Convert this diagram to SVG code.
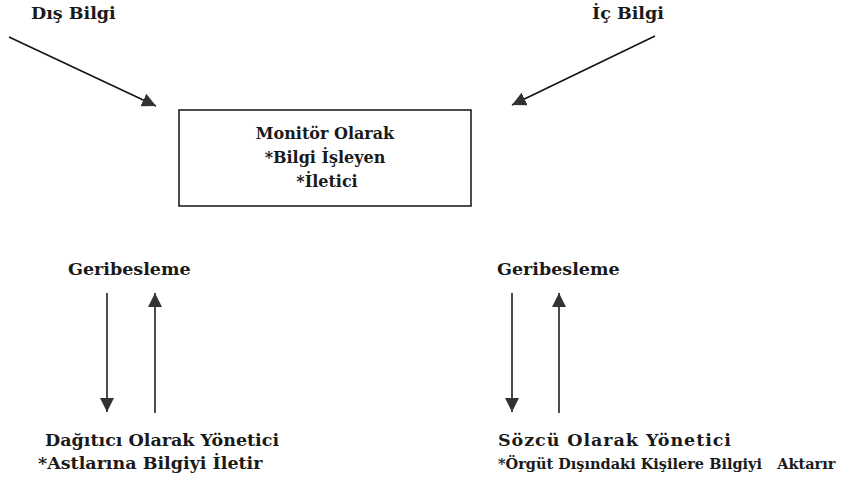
<svg xmlns="http://www.w3.org/2000/svg" width="847" height="486" viewBox="0 0 847 486">
<style>
text{font-family:"DejaVu Serif","Liberation Serif",serif;font-size:17.5px;font-weight:bold;fill:#1a1a1a}
.c{text-anchor:middle;font-size:16px}
.s{font-size:14.5px}
.ln{stroke:#111;stroke-width:1.5;fill:none}
.box{fill:#fff;stroke:#111;stroke-width:1.5}
</style>
<defs>
<marker id="ah" viewBox="0 0 10 10" refX="10" refY="5" markerWidth="14" markerHeight="14" markerUnits="userSpaceOnUse" orient="auto">
<path d="M0,0 L10,5 L0,10 Z" fill="#333"/>
</marker>
</defs>
<rect width="847" height="486" fill="#fff"/>
<g id="dis-bilgi"><text x="31" y="19">Dış Bilgi</text></g>
<g id="ic-bilgi"><text x="592" y="19">İç Bilgi</text></g>
<g id="monitor">
<rect class="box" x="179" y="110" width="292" height="96"/>
<text class="c" x="325" y="139">Monitör Olarak</text>
<text class="c" x="325" y="163">*Bilgi İşleyen</text>
<text class="c" x="327" y="187">*İletici</text>
</g>
<g id="geribesleme-sol"><text x="68" y="275">Geribesleme</text></g>
<g id="geribesleme-sag"><text x="497" y="275">Geribesleme</text></g>
<g id="dagitici">
<text x="45" y="446">Dağıtıcı Olarak Yönetici</text>
<text x="38" y="469">*Astlarına Bilgiyi İletir</text>
</g>
<g id="sozcu">
<text x="498" y="446" textLength="233">Sözcü Olarak Yönetici</text>
<text class="s" x="498" y="469" xml:space="preserve">*Örgüt Dışındaki Kişilere Bilgiyi   Aktarır</text>
</g>
<g id="connectors">
<line class="ln" x1="9" y1="37" x2="156" y2="106" marker-end="url(#ah)"/>
<line class="ln" x1="655" y1="36" x2="512" y2="105" marker-end="url(#ah)"/>
<line class="ln" x1="107" y1="293" x2="107" y2="412" marker-end="url(#ah)"/>
<line class="ln" x1="155" y1="413" x2="155" y2="293" marker-end="url(#ah)"/>
<line class="ln" x1="512" y1="293" x2="512" y2="412" marker-end="url(#ah)"/>
<line class="ln" x1="559" y1="413" x2="559" y2="293" marker-end="url(#ah)"/>
</g>
</svg>
